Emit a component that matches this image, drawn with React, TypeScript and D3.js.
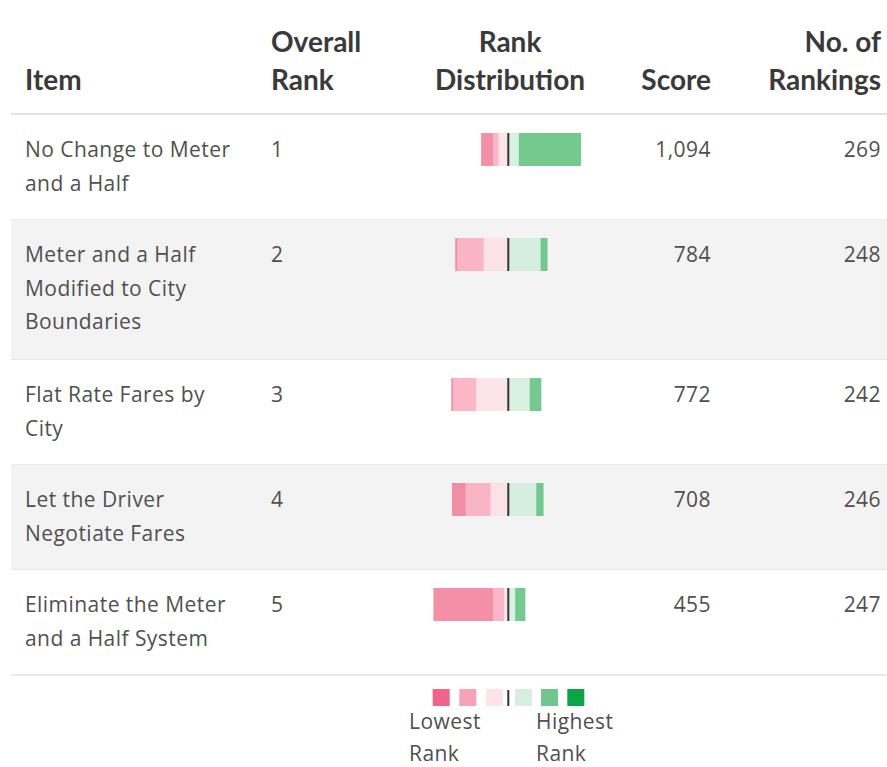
import React from "react";
import * as d3 from "d3";

// ---- data ----
const items: string[][] = [
  ["No Change to Meter", "and a Half"],
  ["Meter and a Half", "Modified to City", "Boundaries"],
  ["Flat Rate Fares by", "City"],
  ["Let the Driver", "Negotiate Fares"],
  ["Eliminate the Meter", "and a Half System"],
];
const overallRank = [1, 2, 3, 4, 5];
const scores = [1094, 784, 772, 708, 455];
const numRankings = [269, 248, 242, 246, 247];
// counts of rankings per rank position [rank1, rank2, rank3, rank4, rank5]
const rank1Counts = [171, 19, 32, 20, 28];
const rank2Counts = [26, 86, 56, 74, 16];
const rank3Counts = [24, 65, 86, 46, 9];
const rank4Counts = [15, 72, 62, 68, 30];
const rank5Counts = [33, 6, 6, 38, 164];

const headers = [
  { lines: ["Item"], x: 25, anchor: "start" },
  { lines: ["Overall", "Rank"], x: 271, anchor: "start" },
  { lines: ["Rank", "Distribution"], x: 510, anchor: "middle" },
  { lines: ["Score"], x: 711, anchor: "end" },
  { lines: ["No. of", "Rankings"], x: 881, anchor: "end" },
];

const barColors = ["#51bb73", "#ceecd8", "#fddde5", "#faa4ba", "#f17392"]; // rank1..rank5
const legendColors = ["#f06587", "#f6a3b7", "#fde3ea", "#d6efdf", "#71c690", "#0da446"];
const legendLabels = [["Lowest", "Rank"], ["Highest", "Rank"]];

const W = 887;
const H = 767;
const bodyFont = "'Open Sans', sans-serif";
const headFont = "Lato, sans-serif";
const textColor = "#505050";

export default function App() {
  const lineH = 33.5;
  const tableTop = 115;
  const rowHeights = items.map((l) => 35 + l.length * 35);
  const rowTops: number[] = [];
  let acc = tableTop;
  rowHeights.forEach((h) => {
    rowTops.push(acc);
    acc += h;
  });
  const tableBottom = acc;

  const center = 508.3;
  const w = d3.scaleLinear().domain([0, 100]).range([0, 36.4]);
  const fmt = d3.format(",");

  const legendY = tableBottom + 14;
  const legendSize = 17;
  const legendXs = [-75.6, -49.0, -22.3, 6.7, 32.7, 59.0].map((d) => center + d);
  const bodyText = { fontFamily: bodyFont, fontSize: 21, letterSpacing: 0.45, fill: textColor } as any;

  return (
    <svg
      width={W}
      height={H}
      style={{ position: "absolute", left: 0, top: 0, background: "#fff" }}
    >
      {/* header */}
      {headers.map((h, i) => (
        <text
          key={i}
          x={h.x}
          textAnchor={h.anchor as any}
          fontFamily={headFont}
          fontWeight={700}
          fontSize={28}
          fill="#3a3a3a"
        >
          {h.lines.map((l, j) => (
            <tspan key={j} x={h.x} y={90 - (h.lines.length - 1 - j) * 38}>
              {l}
            </tspan>
          ))}
        </text>
      ))}
      <line x1={11} x2={W} y1={tableTop - 1} y2={tableTop - 1} stroke="#e2e2e2" strokeWidth={2} />

      {items.map((lines, i) => {
        const top = rowTops[i];
        const h = rowHeights[i];
        const base = top + 42;
        const left = [rank3Counts[i], rank4Counts[i], rank5Counts[i]];
        const leftCols = [barColors[2], barColors[3], barColors[4]];
        const right = [rank2Counts[i], rank1Counts[i]];
        const rightCols = [barColors[1], barColors[0]];
        let lx = center - 1;
        let rx = center + 1;
        const barY = top + 18;
        const barH = 33;
        return (
          <g key={i}>
            <rect x={11} y={top} width={W - 11} height={h} fill={i % 2 === 1 ? "#f3f3f3" : "#ffffff"} />
            <line x1={11} x2={W} y1={top + h} y2={top + h} stroke="#e2e2e2" strokeWidth={1.5} />
            <text {...bodyText}>
              {lines.map((l, j) => (
                <tspan key={j} x={25} y={base + j * lineH}>
                  {l}
                </tspan>
              ))}
            </text>
            <text x={271} y={base} {...bodyText}>
              {overallRank[i]}
            </text>
            <text x={711} y={base} textAnchor="end" {...bodyText}>
              {fmt(scores[i])}
            </text>
            <text x={881} y={base} textAnchor="end" {...bodyText}>
              {numRankings[i]}
            </text>
            {left.map((c, j) => {
              const ww = w(c);
              lx -= ww;
              return <rect key={"l" + j} x={lx} y={barY} width={ww} height={barH} fill={leftCols[j]} fillOpacity={0.8} />;
            })}
            {right.map((c, j) => {
              const ww = w(c);
              const x0 = rx;
              rx += ww;
              return <rect key={"r" + j} x={x0} y={barY} width={ww} height={barH} fill={rightCols[j]} fillOpacity={0.8} />;
            })}
            <rect x={center - 1} y={barY} width={2} height={barH} fill="#333" />
          </g>
        );
      })}

      {/* legend */}
      {legendColors.map((c, i) => (
        <rect key={i} x={legendXs[i]} y={legendY} width={legendSize} height={legendSize} fill={c} />
      ))}
      <rect x={center - 1} y={legendY + 1} width={2} height={legendSize - 1} fill="#333" />
      {legendLabels.map((ls, i) => (
        <text key={i} {...bodyText}>
          {ls.map((l, j) => (
            <tspan key={j} x={i === 0 ? 409 : 536} y={tableBottom + 54 + j * 32}>
              {l}
            </tspan>
          ))}
        </text>
      ))}
    </svg>
  );
}
